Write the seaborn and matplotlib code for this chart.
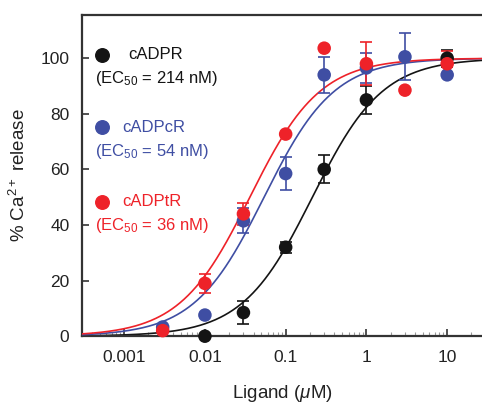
import numpy as np
import pandas as pd
import matplotlib
matplotlib.use("Agg")
import matplotlib.pyplot as plt
import seaborn as sns

sns.set_style("ticks")
plt.rcParams['font.family'] = ['Liberation Sans', 'DejaVu Sans']
plt.rcParams['mathtext.fontset'] = 'custom'
plt.rcParams['mathtext.rm'] = 'Liberation Sans'
plt.rcParams['mathtext.it'] = 'Liberation Sans:italic'

# data
names = ['cADPR', 'cADPcR', 'cADPtR']
ec50_nM = [214, 54, 36]
colors = ['#141414', '#3f4ea3', '#ee2229']

x_cadpr = [0.01, 0.03, 0.1, 0.3, 1, 10]
y_cadpr = [0, 8.5, 32, 60, 85, 100]
e_cadpr = [0, 4, 2, 5, 5, 3]

x_cadpcr = [0.003, 0.01, 0.03, 0.1, 0.3, 1, 3, 10]
y_cadpcr = [3.3, 7.6, 41.5, 58.5, 94, 96.5, 100.5, 94]
e_cadpcr = [0, 0, 4.5, 6, 6.5, 5.5, 8.5, 0]

x_cadptr = [0.003, 0.01, 0.03, 0.1, 0.3, 1, 3, 10]
y_cadptr = [2, 19, 44, 72.7, 103.6, 98, 88.5, 98]
e_cadptr = [0, 3.5, 4, 0, 0, 7.8, 0, 4.5]

xs = [x_cadpr, x_cadpcr, x_cadptr]
ys = [y_cadpr, y_cadpcr, y_cadptr]
es = [e_cadpr, e_cadpcr, e_cadptr]

fig = plt.figure(figsize=(4.82, 4.08), dpi=100)
ax = fig.add_axes([0.170, 0.176, 0.83, 0.787])

xgrid = np.logspace(np.log10(3e-4), np.log10(30), 400)
for i, name in enumerate(names):
    # Hill fit, slope 1
    fit = pd.DataFrame({'x': xgrid, 'y': 100 / (1 + (ec50_nM[i] / 1000) / xgrid)})
    sns.lineplot(data=fit, x='x', y='y', color=colors[i], lw=1.2, ax=ax, zorder=2 + i)

for i, name in enumerate(names):
    df = pd.DataFrame({'x': xs[i], 'y': ys[i], 'e': es[i]})
    err = df[df['e'] > 0]
    ax.errorbar(err['x'], err['y'], yerr=err['e'], fmt='none', ecolor=colors[i],
                elinewidth=1.2, capsize=4, capthick=1.2, zorder=5 + i, clip_on=False)
    sns.scatterplot(data=df, x='x', y='y', color=colors[i], s=95, edgecolor='none',
                    ax=ax, zorder=10 + i, clip_on=False)

ax.set_xscale('log')
ax.set_xlim(3e-4, 27)
ax.set_ylim(0, 115.5)
ax.set_yticks([0, 20, 40, 60, 80, 100])
ax.set_xticks([0.001, 0.01, 0.1, 1, 10])
ax.set_xticklabels(['0.001', '0.01', '0.1', '1', '10'])
ax.tick_params(axis='both', which='major', direction='in', length=5, width=1.2,
               labelsize=12.5, color='#333333', labelcolor='#222222')
ax.tick_params(axis='x', which='major', pad=10)
ax.tick_params(axis='y', which='major', pad=9)
ax.tick_params(axis='x', which='minor', direction='in', length=3, width=0.8, color='#999999')
for side in ['left', 'bottom', 'top']:
    ax.spines[side].set_linewidth(1.6)
    ax.spines[side].set_color('#333333')
ax.spines['right'].set_visible(False)

ax.set_xlabel('Ligand ($\\mu$M)', fontsize=13.5, labelpad=13, color='#222222')
ax.set_ylabel('% Ca$^{2+}$ release', fontsize=13.5, labelpad=8, color='#222222')

# legend drawn as text
leg_y = [0.877, 0.651, 0.419]
for i, name in enumerate(names):
    ax.scatter([0.05], [leg_y[i]], s=95, color=colors[i], transform=ax.transAxes,
               clip_on=False, zorder=20)
    ax.text(0.1 if i else 0.115, leg_y[i], name, transform=ax.transAxes, fontsize=12,
            color=colors[i], va='center')
    ax.text(0.032, leg_y[i] - 0.075, '(EC$_{50}$ = %d nM)' % ec50_nM[i],
            transform=ax.transAxes, fontsize=12, color=colors[i], va='center')

fig.savefig('out.png', dpi=100)
